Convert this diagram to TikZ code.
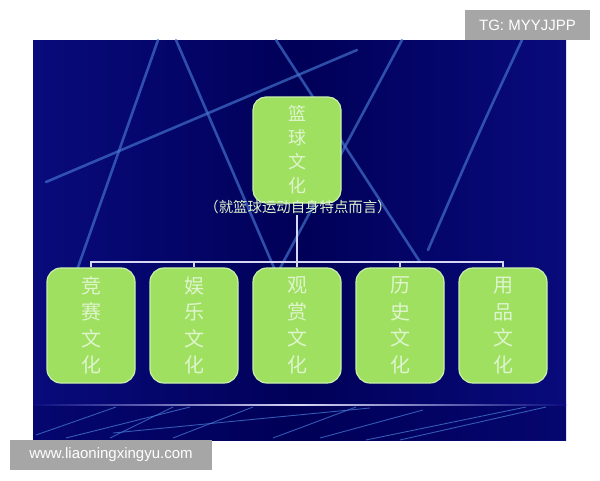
\documentclass[tikz,border=0pt]{standalone}
\usepackage{fontspec}
\setmainfont{Liberation Sans}
\newfontfamily\cjk{Noto Sans CJK SC}
\usetikzlibrary{positioning}
\definecolor{edgeblue}{RGB}{26,34,168}
\definecolor{midblue}{RGB}{10,12,128}
\definecolor{deepblue}{RGB}{0,0,88}
\definecolor{beam}{RGB}{70,120,210}
\definecolor{boxgreen}{RGB}{160,224,96}
\definecolor{boxedge}{RGB}{200,240,170}
\definecolor{boxtext}{RGB}{222,244,206}
\definecolor{linkcol}{RGB}{215,215,245}
\definecolor{wmgray}{RGB}{166,166,166}
\pgfdeclarehorizontalshading{panelsh}{100bp}{color(0bp)=(edgeblue); color(22bp)=(midblue); color(50bp)=(deepblue); color(78bp)=(midblue); color(100bp)=(edgeblue)}
\tikzset{
  beamline/.style={draw=beam, line width=2.6pt, opacity=0.65, line cap=round},
  floorline/.style={draw=beam, line width=0.9pt, opacity=0.75},
  topbox/.style={draw=boxedge, line width=1.2pt, fill=boxgreen, rounded corners=13pt,
    minimum width=88pt, minimum height=106pt, inner sep=0pt, align=center,
    text=boxtext, font=\cjk\fontsize{18}{24}\selectfont},
  subbox/.style={draw=boxedge, line width=1.2pt, fill=boxgreen, rounded corners=14pt,
    minimum width=88pt, minimum height=115pt, inner sep=0pt, align=center,
    text=boxtext, font=\cjk\fontsize{20}{26.5}\selectfont},
  link/.style={draw=linkcol, line width=1.3pt},
  wmark/.style={fill=wmgray, text=white, inner sep=0pt, font=\fontsize{15}{16}\selectfont}
}
\begin{document}
\begin{tikzpicture}[x=1pt,y=-1pt]
\useasboundingbox (0,0) rectangle (600,480);
\fill[white] (0,0) rectangle (600,480);
% panel
\shade[shading=panelsh] (33,40) rectangle (566,440);
\fill[deepblue, opacity=0.35] (33,406) rectangle (566,440);
% light beams
\draw[beamline] (158,40) -- (70,290);
\draw[beamline] (176,40) -- (275,270);
\draw[beamline] (46,182) -- (357,50);
\draw[beamline] (276,40) -- (420,262);
\draw[beamline] (402,40) -- (278,272);
\draw[beamline] (522,40) .. controls (480,130) .. (428,250);
% floor
\shade[left color=midblue, right color=midblue, middle color=linkcol] (33,404.3) rectangle (566,405.9);
\draw[floorline] (36,435) -- (116,407);
\draw[floorline] (66,438) -- (190,407);
\draw[floorline] (110,438) -- (173,407);
\draw[floorline] (173,438) -- (253,407);
\draw[floorline] (113,433) -- (370,408);
\draw[floorline] (273,438) -- (356,407);
\draw[floorline] (320,438) -- (423,410);
\draw[floorline] (366,440) -- (526,407);
\draw[floorline] (400,440) -- (546,407);
% nodes
\node[topbox] (top) at (297,150) {篮\\球\\文\\化};
\node[text=boxtext, font=\cjk\fontsize{14.4}{15}\selectfont, inner sep=1pt] (sub) at (298,207) {（就篮球运动自身特点而言）};
\node[subbox] (b1) at (91,325.5) {竞\\赛\\文\\化};
\node[subbox] (b2) at (194,325.5) {娱\\乐\\文\\化};
\node[subbox] (b3) at (297,325.5) {观\\赏\\文\\化};
\node[subbox] (b4) at (400,325.5) {历\\史\\文\\化};
\node[subbox] (b5) at (503,325.5) {用\\品\\文\\化};
\coordinate (j) at (297,262);
\draw[link] (sub.south -| j) -- (j);
\draw[link] (b1.north) -- (b1.north |- j) -- (b5.north |- j) -- (b5.north);
\draw[link] (b2.north) -- (b2.north |- j);
\draw[link] (b3.north) -- (j);
\draw[link] (b4.north) -- (b4.north |- j);
% watermarks
\node[wmark, minimum width=125pt, minimum height=30pt] (tg) at (527.5,25) {TG: MYYJJPP};
\node[wmark, minimum width=202pt, minimum height=30pt] (www) at (111,455) {www.liaoningxingyu.com};
\end{tikzpicture}
\end{document}
